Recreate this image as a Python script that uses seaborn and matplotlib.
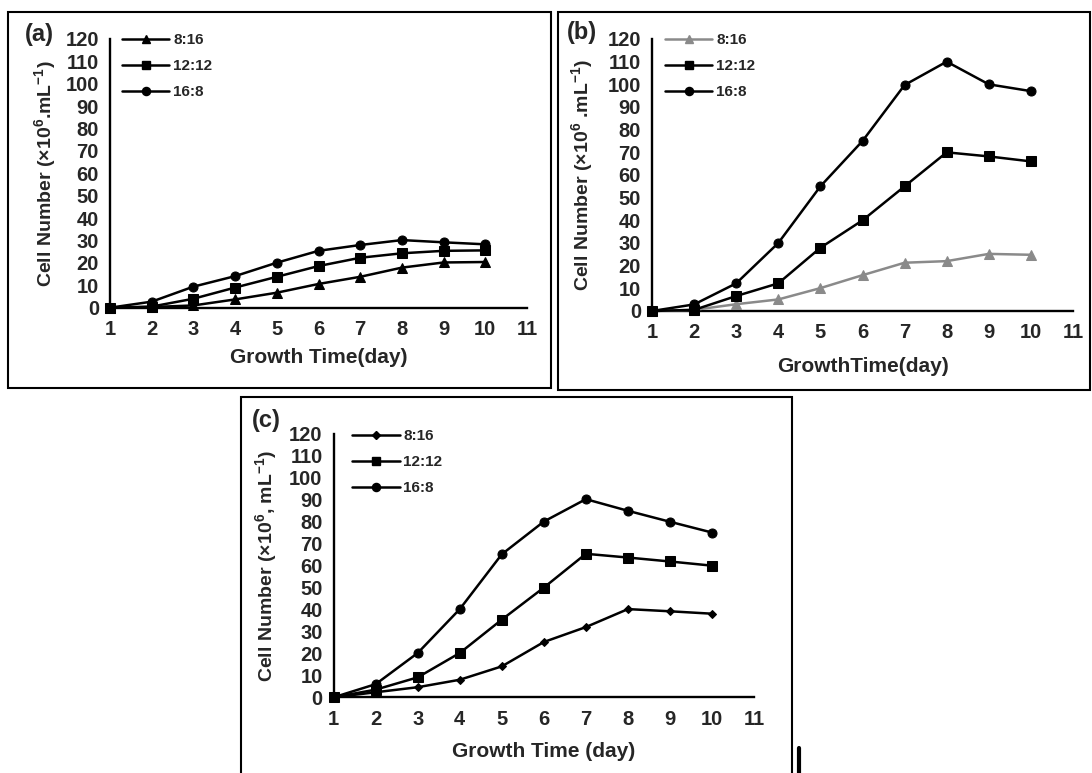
import matplotlib
matplotlib.use("Agg")
import matplotlib.pyplot as plt
from matplotlib.patches import Rectangle
from matplotlib.lines import Line2D
import seaborn as sns

# ---- data: cell density (x10^6 cells/mL) by growth day for three photoperiods ----
days = [1, 2, 3, 4, 5, 6, 7, 8, 9, 10]
photoperiods = ["8:16", "12:12", "16:8"]

a_8_16 = [0, 0.3, 1, 3.7, 6.7, 10.6, 13.8, 17.9, 20.2, 20.4]
a_12_12 = [0, 0.5, 4, 9, 13.8, 18.6, 22.3, 24.3, 25.4, 25.6]
a_16_8 = [0, 2.7, 9.4, 14.1, 20.1, 25.4, 28, 30.2, 29.2, 28.3]

b_8_16 = [0, 0.5, 3, 5.1, 10.1, 15.8, 21.3, 22, 25.2, 24.8]
b_12_12 = [0, 0.5, 6.6, 12.2, 27.9, 40, 55, 70, 68.2, 66]
b_16_8 = [0, 2.9, 12.2, 30, 55, 75, 99.7, 110, 100, 97]

c_8_16 = [0, 2.3, 4.6, 8, 14.1, 25.2, 32, 40.2, 39.2, 38.1]
c_12_12 = [0, 3.5, 9.1, 20.2, 35.4, 50, 65.4, 63.7, 61.9, 60]
c_16_8 = [0, 6, 20.2, 40.2, 65.2, 80.1, 90.3, 85, 80, 75.1]

x_ticks = list(range(1, 12))
y_ticks = list(range(0, 121, 10))

panel_tags = ["(a)", "(b)", "(c)"]
x_titles = ["Growth Time(day)", "GrowthTime(day)", "Growth Time (day)"]
y_titles = [
    "Cell Number (×10$^{6}$.mL$^{-1}$)",
    "Cell Number (×10$^{6}$ .mL$^{-1}$)",
    "Cell Number (×10$^{6}$, mL$^{-1}$)",
]

# ---- style ----
sns.set_style("white")
plt.rcParams["font.family"] = ["Liberation Sans", "DejaVu Sans"]
plt.rcParams["font.weight"] = "bold"
plt.rcParams["axes.labelweight"] = "bold"
plt.rcParams["mathtext.fontset"] = "custom"
plt.rcParams["mathtext.rm"] = "Liberation Sans:bold"
plt.rcParams["mathtext.it"] = "Liberation Sans:bold"
plt.rcParams["mathtext.bf"] = "Liberation Sans:bold"

W, H = 1092, 773
fig = plt.figure(figsize=(W / 100, H / 100), dpi=100)
fig.patch.set_facecolor("white")


def px_axes(left, right, top, bottom):
    return fig.add_axes([left / W, 1 - bottom / H, (right - left) / W, (bottom - top) / H])


ax_a = px_axes(110, 527, 39, 307.7)
ax_b = px_axes(652, 1073, 39, 311)
ax_c = px_axes(333.7, 754, 434, 697.3)

panels = [
    (ax_a, [a_8_16, a_12_12, a_16_8], ["black", "black", "black"], ["^", "s", "o"]),
    (ax_b, [b_8_16, b_12_12, b_16_8], ["#8a8a8a", "black", "black"], ["^", "s", "o"]),
    (ax_c, [c_8_16, c_12_12, c_16_8], ["black", "black", "black"], ["D", "s", "o"]),
]
marker_sizes = {"^": 6.5, "s": 6.8, "o": 6.5, "D": 4.5}

legend_anchor = [(0.029, 1.022), (0.031, 1.022), (0.044, 1.018)]
ylabel_x = [-0.125, -0.135, -0.13]
xlabel_y = [-0.15, -0.17, -0.17]

for i, (ax, series, colors, markers) in enumerate(panels):
    for name, vals, col, mk in zip(photoperiods, series, colors, markers):
        sns.lineplot(
            x=days, y=vals, ax=ax, color=col, marker=mk,
            markersize=marker_sizes[mk], markeredgecolor=col, markerfacecolor=col,
            linewidth=1.8, label=name, clip_on=False, zorder=3,
        )
    ax.set_xlim(1, 11)
    ax.set_ylim(0, 120)
    ax.set_xticks(x_ticks)
    ax.set_yticks(y_ticks)
    for side in ["top", "right"]:
        ax.spines[side].set_visible(False)
    for side in ["left", "bottom"]:
        ax.spines[side].set_color("black")
        ax.spines[side].set_linewidth(1.7)
    ax.tick_params(axis="both", which="major", direction="out", length=3, width=1,
                   color="#777777", labelsize=14.5)
    ax.tick_params(axis="y", pad=5)
    ax.tick_params(axis="x", pad=6)
    for lab in ax.get_xticklabels() + ax.get_yticklabels():
        lab.set_fontweight("bold")
    ax.set_xlabel(x_titles[i], fontsize=15, fontweight="bold")
    ax.set_ylabel(y_titles[i], fontsize=14, fontweight="bold")
    ax.xaxis.set_label_coords(0.5, xlabel_y[i])
    ax.yaxis.set_label_coords(ylabel_x[i], 0.5)
    ax.set_facecolor("white")

    handles = [
        Line2D([0], [0], color=c, marker=m, markersize=marker_sizes[m] * 0.9,
               markerfacecolor=c, markeredgecolor=c, linewidth=1.8)
        for c, m in zip(colors, markers)
    ]
    ax.legend(handles, photoperiods, loc="upper left", bbox_to_anchor=legend_anchor[i],
              frameon=False, borderpad=0, borderaxespad=0, handlelength=3.1,
              handletextpad=0.25, labelspacing=0.78, numpoints=1,
              prop={"size": 11, "weight": "bold"})

# panel tags
for tag, (px, py) in zip(panel_tags, [(39, 35), (582, 33), (266, 420)]):
    fig.text(px / W, 1 - py / H, tag, ha="center", va="center", fontsize=17, fontweight="bold")

# panel frames
for (l, t, r, b) in [(8, 12, 551, 388), (558, 12, 1090, 390), (241, 397, 792, 790)]:
    fig.patches.append(Rectangle((l / W, 1 - b / H), (r - l) / W, (b - t) / H,
                                 transform=fig.transFigure, fill=False,
                                 edgecolor="black", linewidth=1.5, zorder=0))

# short vertical rule at the bottom edge
fig.add_artist(Line2D([799 / W, 799 / W], [1 - 748 / H, 0], transform=fig.transFigure,
                      color="black", linewidth=3))

fig.savefig("out.png", dpi=100, facecolor="white")
